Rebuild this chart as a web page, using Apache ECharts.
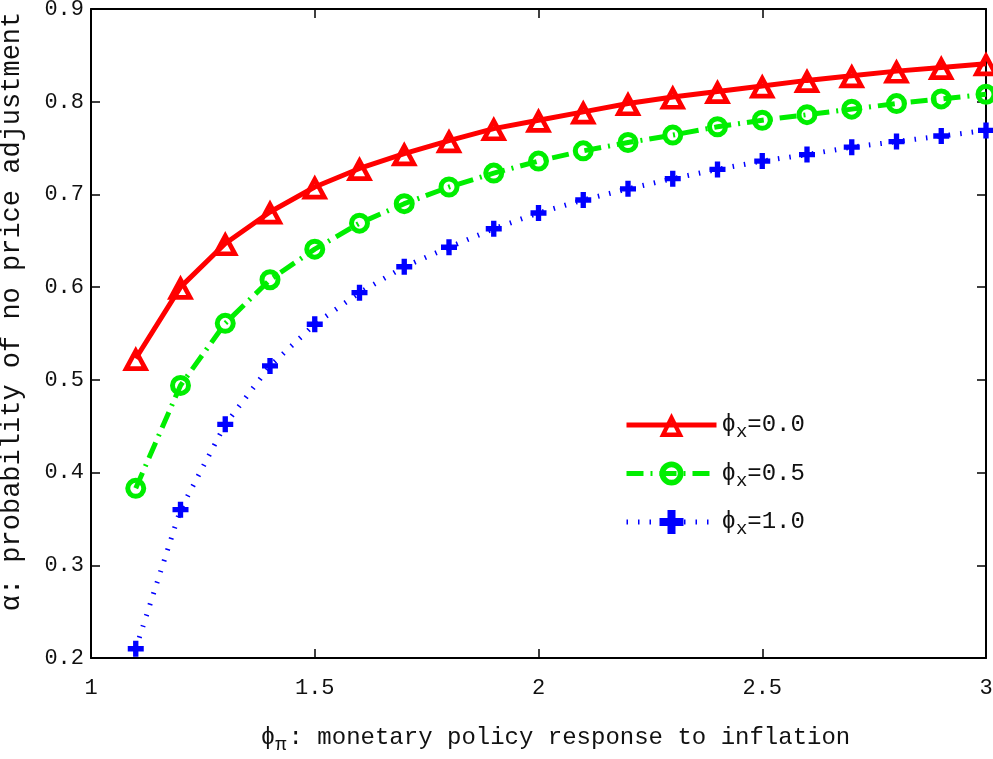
<!DOCTYPE html>
<html>
<head>
<meta charset="utf-8">
<script src="https://cdn.jsdelivr.net/npm/echarts@6/dist/echarts.min.js"></script>
<style>
  html, body { margin: 0; padding: 0; background: #fff; }
  #chart { width: 993px; height: 759px; }
</style>
</head>
<body>
<div id="chart"></div>
<script>
// Taylor-rule coefficient on inflation
const phiPi = [1.1, 1.2, 1.3, 1.4, 1.5, 1.6, 1.7, 1.8, 1.9, 2.0,
               2.1, 2.2, 2.3, 2.4, 2.5, 2.6, 2.7, 2.8, 2.9, 3.0];

// alpha (Calvo probability) for each output-gap coefficient phi_x
const alphaPhiX00 = [0.523, 0.600, 0.647, 0.681, 0.708, 0.728, 0.744, 0.758, 0.771, 0.780,
                     0.789, 0.798, 0.805, 0.811, 0.817, 0.823, 0.828, 0.833, 0.837, 0.841];
const alphaPhiX05 = [0.383, 0.494, 0.561, 0.608, 0.641, 0.669, 0.690, 0.708, 0.723, 0.736,
                     0.747, 0.756, 0.764, 0.773, 0.780, 0.786, 0.792, 0.798, 0.803, 0.808];
const alphaPhiX10 = [0.210, 0.360, 0.452, 0.515, 0.560, 0.594, 0.622, 0.643, 0.663, 0.680,
                     0.694, 0.706, 0.717, 0.727, 0.736, 0.743, 0.751, 0.757, 0.763, 0.769];

const seriesLabels = ['0.0', '0.5', '1.0'];

const xTicks = { min: 1, max: 3, interval: 0.5 };
const yTicks = { min: 0.2, max: 0.9, interval: 0.1 };

const FONT = '"Liberation Mono", "DejaVu Sans Mono", monospace';

function pairs(ys) { return phiPi.map((x, i) => [x, ys[i]]); }

// open markers drawn as rings so the line shows through the hollow centre
const trianglePath = 'path://M13,0L26,24L0,24Z M13,9.4L7.6,19.5L18.4,19.5Z';
const circlePath = 'path://M0,10.5A10.5,10.5,0,1,1,21,10.5A10.5,10.5,0,1,1,0,10.5Z ' +
                   'M5,10.5A5.5,5.5,0,1,0,16,10.5A5.5,5.5,0,1,0,5,10.5Z';
const plusPath = 'path://M4,0H8V4H12V8H8V12H4V8H0V4H4Z';

const RED = '#ff0000', GREEN = '#00ee00', BLUE = '#0000ff';
const greenDash = [17, 7, 2, 7];
const blueDots = [1.5, 10];

const frameAxis = {
  axisLine: { show: true, lineStyle: { color: '#000', width: 2 } },
  axisTick: { show: true, inside: true, length: 9, lineStyle: { color: '#000', width: 1.5 } },
  splitLine: { show: false }
};

const chart = echarts.init(document.getElementById('chart'), null, { renderer: 'canvas' });

chart.setOption({
  backgroundColor: '#fff',
  animation: false,
  grid: { left: 91, right: 7, top: 9, bottom: 101, containLabel: false, outerBoundsMode: 'none' },
  xAxis: [
    Object.assign({
      type: 'value', position: 'bottom',
      min: xTicks.min, max: xTicks.max, interval: xTicks.interval,
      axisLabel: { color: '#111', fontFamily: FONT, fontSize: 22, margin: 19 },
      name: '{g|ϕ}{s|π}{t|: monetary policy response to inflation}',
      nameLocation: 'middle', nameGap: 63,
      nameTextStyle: {
        padding: [0, 0, 0, 34],
        rich: {
          g: { fontFamily: FONT, fontSize: 24, color: '#111' },
          s: { fontFamily: FONT, fontSize: 19, color: '#111', padding: [14, 2, 0, 0] },
          t: { fontFamily: FONT, fontSize: 24, color: '#111' }
        }
      }
    }, frameAxis),
    Object.assign({
      type: 'value', position: 'top',
      min: xTicks.min, max: xTicks.max, interval: xTicks.interval,
      axisLabel: { show: false }
    }, frameAxis)
  ],
  yAxis: [
    Object.assign({
      type: 'value', position: 'left',
      min: yTicks.min, max: yTicks.max, interval: yTicks.interval,
      axisLabel: { color: '#111', fontFamily: FONT, fontSize: 22, margin: 7,
                   formatter: v => v.toFixed(1) },
      name: 'α: probability of no price adjustment',
      nameLocation: 'middle', nameGap: 66, nameRotate: 90,
      nameTextStyle: { fontFamily: FONT, fontSize: 27, color: '#111', padding: [0, 0, 0, 44] }
    }, frameAxis),
    Object.assign({
      type: 'value', position: 'right',
      min: yTicks.min, max: yTicks.max, interval: yTicks.interval,
      axisLabel: { show: false }
    }, frameAxis)
  ],
  legend: {
    orient: 'vertical',
    left: 619, top: 408,
    itemWidth: 90, itemHeight: 30, itemGap: 20,
    formatter: name => '{g|ϕ}{s|x}{t|=' + name + '}',
    textStyle: {
      rich: {
        g: { fontFamily: FONT, fontSize: 24, color: '#111' },
        s: { fontFamily: FONT, fontSize: 19, color: '#111', padding: [14, 0, 0, 0] },
        t: { fontFamily: FONT, fontSize: 24, color: '#111' }
      }
    },
    data: [
      { name: seriesLabels[0], lineStyle: { width: 5, type: 'solid', color: RED } },
      { name: seriesLabels[1], lineStyle: { width: 5, type: greenDash, color: GREEN } },
      { name: seriesLabels[2], lineStyle: { width: 5, type: blueDots, color: BLUE } }
    ]
  },
  series: [
    {
      name: seriesLabels[0], type: 'line', data: pairs(alphaPhiX00),
      color: RED,
      lineStyle: { color: RED, width: 5, type: 'solid' },
      symbol: trianglePath, symbolSize: [27, 25],
      itemStyle: { color: RED, borderWidth: 0 },
      z: 3
    },
    {
      name: seriesLabels[1], type: 'line', data: pairs(alphaPhiX05),
      color: GREEN,
      lineStyle: { color: GREEN, width: 5, type: greenDash, cap: 'butt' },
      symbol: circlePath, symbolSize: 21,
      itemStyle: { color: GREEN, borderWidth: 0 },
      z: 2
    },
    {
      name: seriesLabels[2], type: 'line', data: pairs(alphaPhiX10),
      color: BLUE,
      lineStyle: { color: BLUE, width: 5, type: blueDots, cap: 'butt' },
      symbol: plusPath, symbolSize: 16,
      itemStyle: { color: BLUE, borderWidth: 0 },
      z: 1
    }
  ]
});
</script>
</body>
</html>
